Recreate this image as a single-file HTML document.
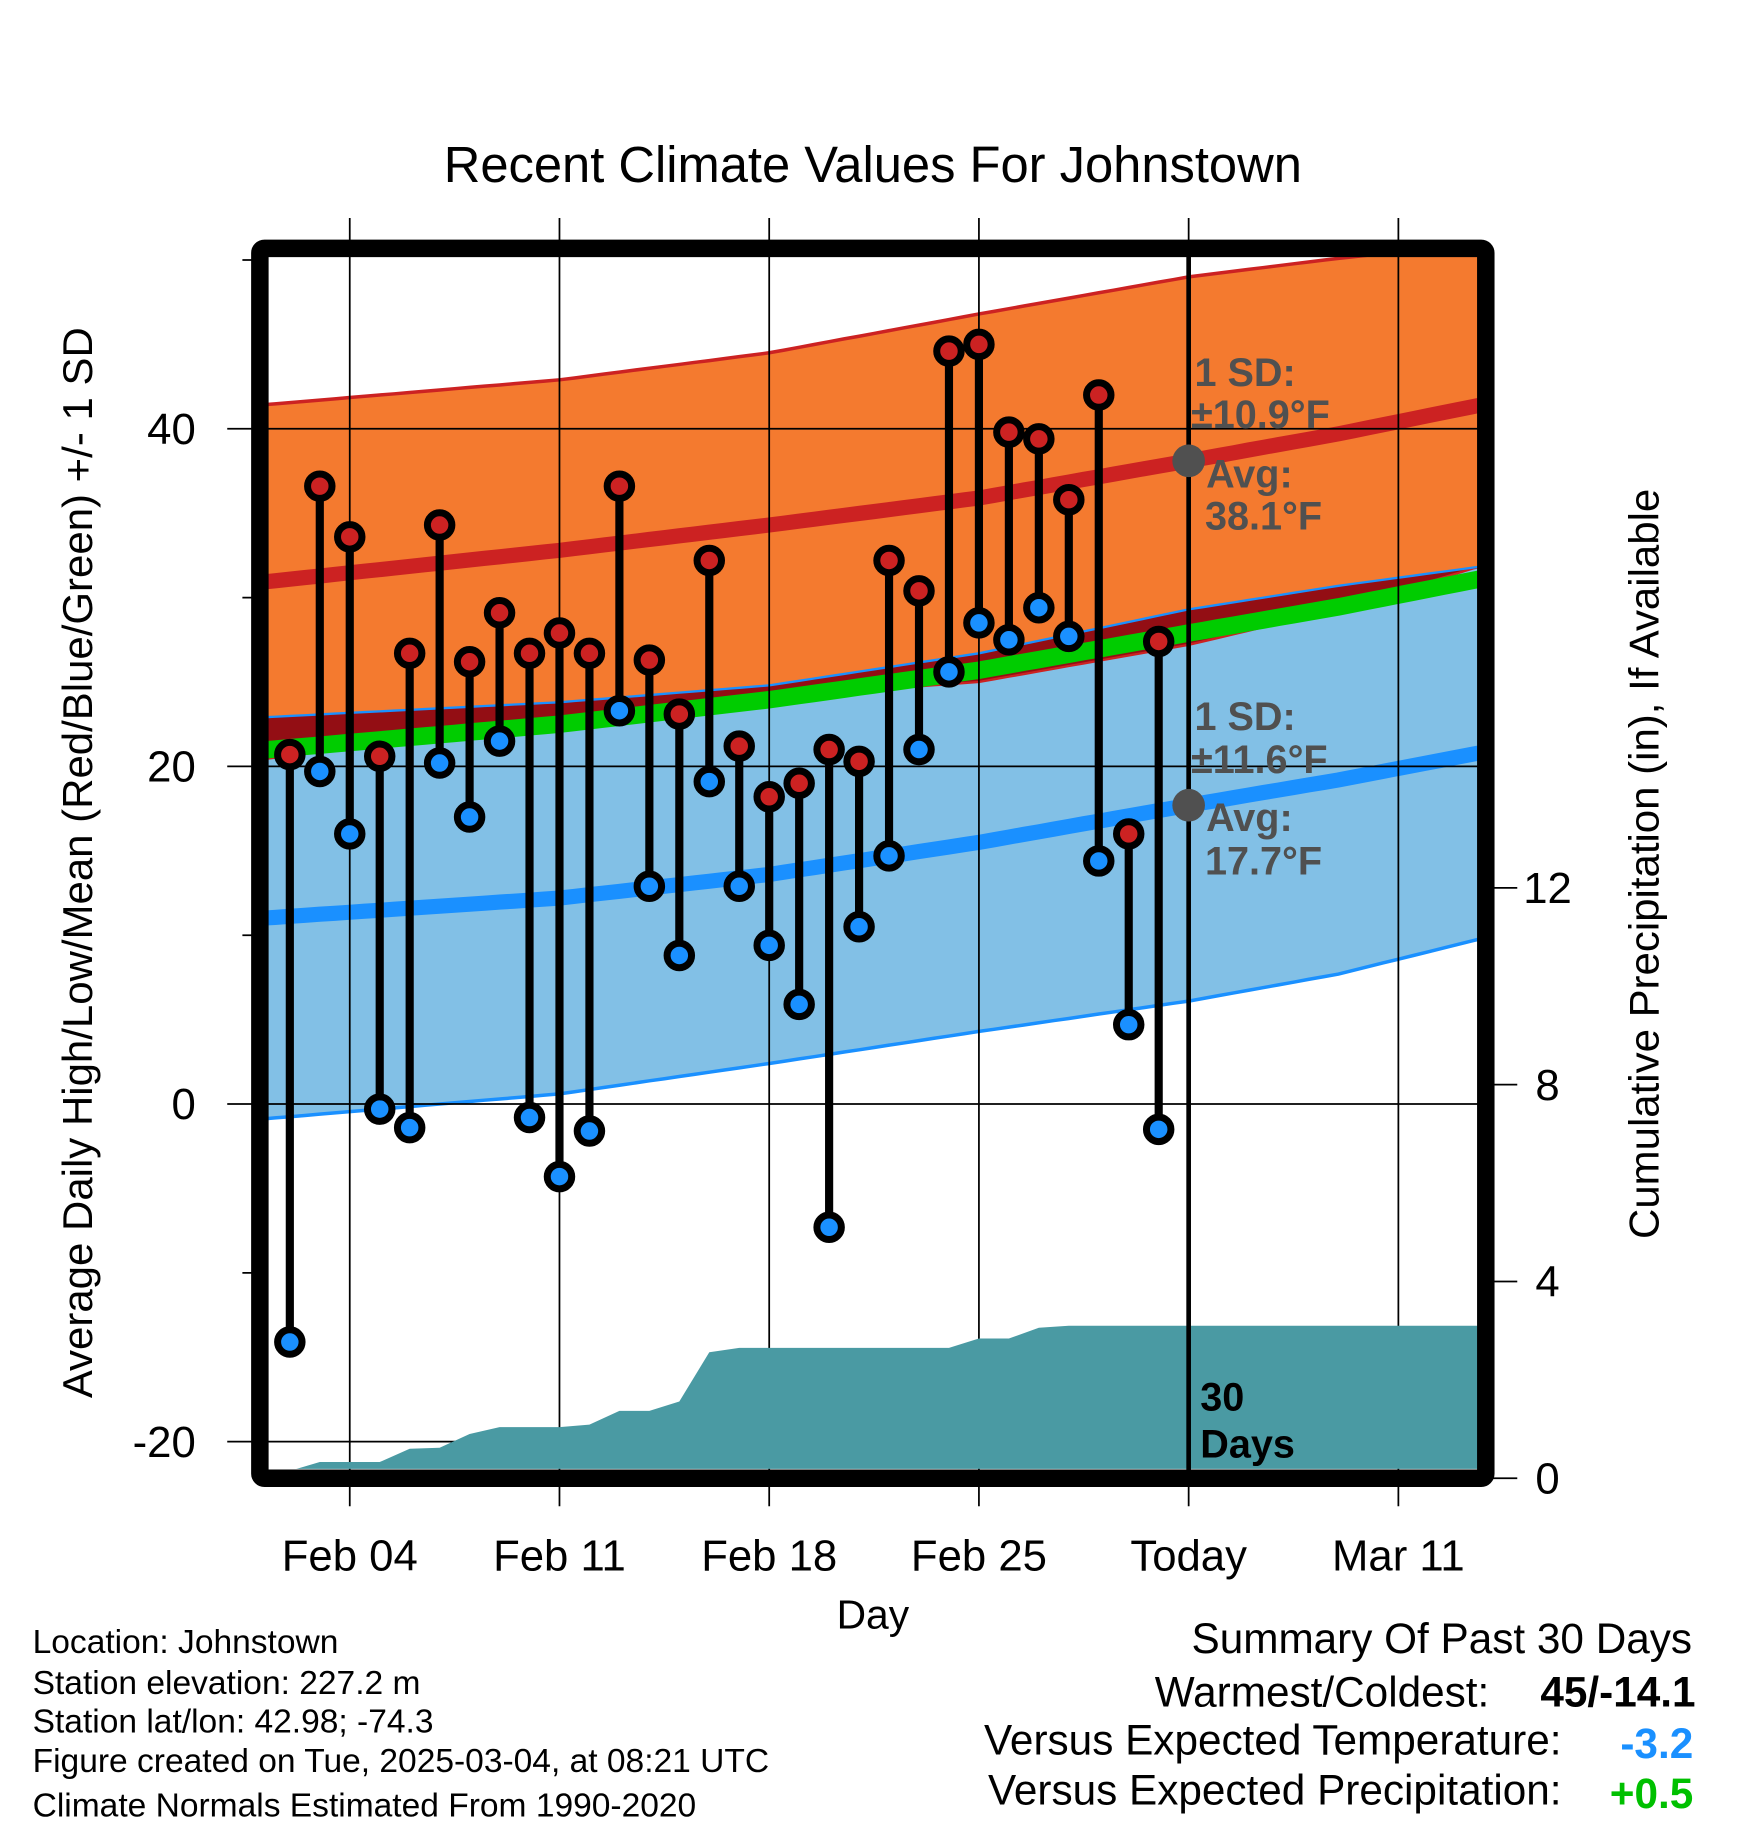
<!DOCTYPE html>
<html><head><meta charset="utf-8"><style>
html,body{margin:0;padding:0;background:#fff;}
svg{display:block;font-family:"Liberation Sans",Arial,sans-serif;}
</style></head><body>
<svg id="chart" width="1748" height="1828" viewBox="0 0 1500 1568" preserveAspectRatio="none" xmlns="http://www.w3.org/2000/svg">
<defs><clipPath id="plotclip"><rect x="230" y="220" width="1038" height="1040"/></clipPath></defs>
<rect width="1500" height="1568" fill="#fff"/>
<text x="749" y="156" font-size="43.5" text-anchor="middle">Recent Climate Values For Johnstown</text>
<g id="bands" clip-path="url(#plotclip)"></g>
<g id="grid"></g>
<g id="precip" clip-path="url(#plotclip)"></g>
<g id="annot"></g>
<g id="marks"></g>
<rect x="223" y="213" width="1052" height="1055" fill="none" stroke="#000" stroke-width="15" rx="4"/>
<g id="axes"></g>
<text x="749" y="1397" font-size="35" text-anchor="middle">Day</text>
<text transform="translate(79,740) rotate(-90)" font-size="36" text-anchor="middle">Average Daily High/Low/Mean (Red/Blue/Green) +/- 1 SD</text>
<text transform="translate(1423,741) rotate(-90)" font-size="36" text-anchor="middle">Cumulative Precipitation (in), If Available</text>
<g font-size="28.8">
<text x="28" y="1418">Location: Johnstown</text>
<text x="28" y="1453">Station elevation: 227.2 m</text>
<text x="28" y="1486">Station lat/lon: 42.98; -74.3</text>
<text x="28" y="1520">Figure created on Tue, 2025-03-04, at 08:21 UTC</text>
<text x="28" y="1558">Climate Normals Estimated From 1990-2020</text>
</g>
<g font-size="36.3" text-anchor="end">
<text x="1452" y="1418">Summary Of Past 30 Days</text>
<text x="1278" y="1464">Warmest/Coldest:</text>
<text x="1455" y="1464" font-weight="bold">45/-14.1</text>
<text x="1340" y="1505">Versus Expected Temperature:</text>
<text x="1453" y="1508" font-weight="bold" fill="#1a90ff">-3.2</text>
<text x="1340" y="1548">Versus Expected Precipitation:</text>
<text x="1453" y="1551" font-weight="bold" fill="#00c000">+0.5</text>
</g>
</svg>
<script>
// ---- data ----
const obsDays = [1,2,3,4,5,6,7,8,9,10,11,12,13,14,15,16,17,18,19,20,21,22,23,24,25,26,27,28,29,30];
const highs = [20.7,36.6,33.6,20.6,26.7,34.3,26.2,29.1,26.7,27.9,26.7,36.6,26.3,23.1,32.2,21.2,18.2,19.0,21.0,20.3,32.2,30.4,44.6,45.0,39.8,39.4,35.8,42.0,16.0,27.4];
const lows = [-14.1,19.7,16.0,-0.3,-1.4,20.2,17.0,21.5,-0.8,-4.3,-1.6,23.3,12.9,8.8,19.1,12.9,9.4,5.9,-7.3,10.5,14.7,21.0,25.6,28.5,27.5,29.4,27.7,14.4,4.7,-1.5];
const precip = [0.15,0.33,0.33,0.33,0.6,0.62,0.9,1.04,1.04,1.04,1.09,1.37,1.37,1.56,2.56,2.65,2.65,2.65,2.65,2.65,2.65,2.65,2.65,2.84,2.84,3.06,3.1,3.1,3.1,3.1];
const normDays = [0,10,17,24,31,36,41];
const avgHigh = [30.9,32.8,34.3,35.9,38.1,39.7,41.5];
const avgLow = [11.0,12.2,13.6,15.5,17.7,19.2,20.9];
const sdHigh = [10.5,10.1,10.2,10.9,10.9,10.4,9.5];
const sdLow = [11.9,11.6,11.2,11.2,11.6,11.5,11.0];
const xTickDays = [3,10,17,24,31,38];
const xTickLabels = ["Feb 04","Feb 11","Feb 18","Feb 25","Today","Mar 11"];
const yTicks = [40,20,0,-20];
const yMinor = [50,30,10,-10];
const pTicks = [0,4,8,12];

// ---- scales ----
const X = d => 223 + d*25.71;
const Y = t => 947 - t*14.48;
const P = p => 1268 - p*42.2;
const NS = "http://www.w3.org/2000/svg";
function mk(tag, attrs, parent){const e=document.createElementNS(NS,tag);for(const k in attrs)e.setAttribute(k,attrs[k]);parent.appendChild(e);return e;}
const bands=document.getElementById('bands'),grid=document.getElementById('grid'),pg=document.getElementById('precip'),marks=document.getElementById('marks'),axes=document.getElementById('axes'),annot=document.getElementById('annot');

const dense=[];
for(let d=0; d<=41.01; d+=0.5){
  let i=0; while(i<normDays.length-2 && d>normDays[i+1]) i++;
  const f=(d-normDays[i])/(normDays[i+1]-normDays[i]);
  const L=(a)=>a[i]+(a[i+1]-a[i])*f;
  dense.push({d,h:L(avgHigh),l:L(avgLow),sh:L(sdHigh),sl:L(sdLow)});
}
const pts=fn=>dense.map(o=>X(o.d).toFixed(1)+","+Y(fn(o)).toFixed(1));
function band(up,lo,fill,name){const a=pts(up),b=pts(lo).reverse();const e=mk('polygon',{points:a.concat(b).join(' '),fill:fill},bands);}
function line(fn,color,w,name){const e=mk('polyline',{points:pts(fn).join(' '),fill:'none',stroke:color,'stroke-width':w},bands);}
band(o=>o.h+o.sh,o=>o.h-o.sh,'#f47a2f','high-sd-band');
band(o=>o.l+o.sl,o=>o.l-o.sl,'#82c0e6','low-sd-band');
band(o=>o.l+o.sl,o=>Math.min(o.h-o.sh,o.l+o.sl),'#930e14','overlap-band');
line(o=>o.h+o.sh,'#cc2222',3,'high-sd-upper');
line(o=>Math.min(o.h-o.sh,o.l+o.sl),'#cc2222',2,'high-sd-lower');
line(o=>o.l+o.sl,'#1a90ff',2,'low-sd-upper');
line(o=>o.l-o.sl,'#1a90ff',3,'low-sd-lower');
line(o=>(o.h+o.l)/2,'#00cc00',15,'mean-line');
line(o=>o.h,'#cc2222',13,'avg-high-line');
line(o=>o.l,'#1a90ff',13,'avg-low-line');

xTickDays.forEach((d,i)=>{
  const e=mk('line',{x1:X(d),x2:X(d),y1:187,y2:1292,stroke:'#000','stroke-width':1.5},grid);
  
  const t=mk('text',{x:X(d),y:1347,'font-size':37.5,'text-anchor':'middle'},axes);t.textContent=xTickLabels[i];
  
});
yTicks.forEach(v=>{
  const e=mk('line',{x1:195,x2:1268,y1:Y(v),y2:Y(v),stroke:'#000','stroke-width':1.5},grid);
  
  const t=mk('text',{x:168,y:Y(v)+13,'font-size':37.5,'text-anchor':'end'},axes);t.textContent=v;
  
});
yMinor.forEach(v=>{
  const e=mk('line',{x1:208,x2:225,y1:Y(v),y2:Y(v),stroke:'#000','stroke-width':1.5},axes);
  
});
pTicks.forEach(v=>{
  const e=mk('line',{x1:1275,x2:1302,y1:P(v),y2:P(v),stroke:'#000','stroke-width':1.5},axes);
  
  const t=mk('text',{x:1328,y:P(v)+13,'font-size':37.5,'text-anchor':'middle'},axes);t.textContent=v;
  
});

let pp=[X(obsDays[0]-0.3)+","+P(0)];
obsDays.forEach((d,i)=>pp.push(X(d)+","+P(precip[i])));
pp.push(X(41)+","+P(precip[precip.length-1]));pp.push(X(41)+","+P(0));
const pa=mk('polygon',{points:pp.join(' '),fill:'#4a9aa3'},pg);


const tl=mk('line',{x1:X(31),x2:X(31),y1:220,y2:1262,stroke:'#000','stroke-width':4},annot);

const curH=avgHigh[4],curL=avgLow[4];
const dh=mk('circle',{cx:X(31),cy:Y(curH),r:14,fill:'#505050'},annot);

const dl=mk('circle',{cx:X(31),cy:Y(curL),r:14,fill:'#505050'},annot);

function lab(x,y,s,name){const t=mk('text',{x:x,y:y,'font-size':34,'font-weight':'bold',fill:'#505050'},annot);t.textContent=s;}
lab(1025,331,'1 SD:','high-sd-label');lab(1022,367,'±10.9°F','high-sd-value');
lab(1035,418,'Avg:','high-avg-label');lab(1034,454,'38.1°F','high-avg-value');
lab(1025,626,'1 SD:','low-sd-label');lab(1022,663,'±11.6°F','low-sd-value');
lab(1035,713,'Avg:','low-avg-label');lab(1034,750,'17.7°F','low-avg-value');
const d1=mk('text',{x:1030,y:1210,'font-size':34,'font-weight':'bold'},annot);d1.textContent='30';

const d2=mk('text',{x:1030,y:1250,'font-size':34,'font-weight':'bold'},annot);d2.textContent='Days';


obsDays.forEach((d,i)=>{
  const x=X(d);
  const s=mk('line',{x1:x,x2:x,y1:Y(highs[i]),y2:Y(lows[i]),stroke:'#000','stroke-width':7},marks);
  
  const h=mk('circle',{cx:x,cy:Y(highs[i]),r:10.5,fill:'#cc2222',stroke:'#000','stroke-width':6},marks);
  
  const l=mk('circle',{cx:x,cy:Y(lows[i]),r:10.5,fill:'#1a90ff',stroke:'#000','stroke-width':6},marks);
  
});
</script>
</body></html>
